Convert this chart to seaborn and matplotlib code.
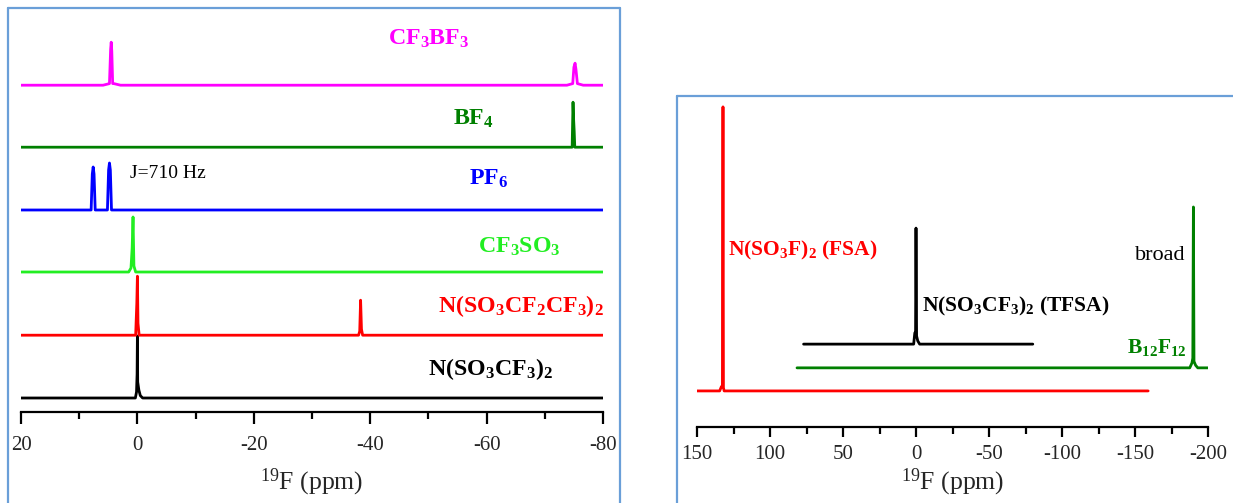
import matplotlib
matplotlib.use("Agg")
import matplotlib.pyplot as plt
from matplotlib.lines import Line2D
from matplotlib.ticker import MultipleLocator
import pandas as pd
import seaborn as sns

# ---------------- Left panel: 19F NMR of fluorinated anions ----------------
# chemical shift (ppm) and intensity above each trace's own baseline
tfsa_ppm = [20, 0.35, 0.15, 0.05, 0.0, -0.05, -0.25, -0.5, -0.9, -80]
tfsa_int = [0, 0, 1.5, 6.0, 15.5, 4.0, 2.0, 0.6, 0, 0]

beti_ppm = [20, 0.3, 0.1, 0.0, -0.1, -0.3, -38.0, -38.2, -38.35, -38.5, -38.7, -80]
beti_int = [0, 0, 8.0, 14.75, 3.0, 0, 0, 1.0, 8.75, 1.5, 0, 0]

otf_ppm = [20, 1.5, 1.1, 0.9, 0.75, 0.6, 0.3, -80]
otf_int = [0, 0, 1.0, 6.0, 13.75, 1.5, 0, 0]

pf6_ppm = [20, 7.95, 7.75, 7.6, 7.45, 7.25, 5.15, 4.95, 4.8, 4.65, 4.45, -80]
pf6_int = [0, 0, 9.0, 10.75, 9.0, 0, 0, 10.0, 11.75, 10.0, 0, 0]

bf4_ppm = [20, -74.7, -74.85, -74.95, -75.05, -75.15, -80]
bf4_int = [0, 0, 11.25, 7.0, 4.0, 0, 0]

cf3bf3_ppm = [20, 5.9, 4.8, 4.6, 4.5, 4.4, 4.25, 4.05, 2.9,
              -73.8, -74.8, -75.0, -75.2, -75.35, -75.6, -76.6, -80]
cf3bf3_int = [0, 0, 0.4, 9.0, 10.75, 8.5, 0.4, 0.4, 0,
              0, 0.4, 4.5, 5.5, 4.0, 0.4, 0, 0]

left_names = ["N(SO3CF3)2", "N(SO3CF2CF3)2", "CF3SO3", "PF6", "BF4", "CF3BF3"]
left_ppm = [tfsa_ppm, beti_ppm, otf_ppm, pf6_ppm, bf4_ppm, cf3bf3_ppm]
left_int = [tfsa_int, beti_int, otf_int, pf6_int, bf4_int, cf3bf3_int]
left_offsets = [3.5, 19.2, 35.0, 50.5, 66.2, 81.7]
left_colors = ["#000000", "#FF0000", "#22EE22", "#0000FF", "#008000", "#FF00FF"]
left_labels = [r"$\mathbf{N(SO_3CF_3)_2}$", r"$\mathbf{N(SO_3CF_2CF_3)_2}$",
               r"$\mathbf{CF_3SO_3}$", r"$\mathbf{PF_6}$", r"$\mathbf{BF_4}$",
               r"$\mathbf{CF_3BF_3}$"]
left_label_pos = [(-50.0, 9.25), (-51.7, 25.1), (-58.6, 39.7),
                  (-57.0, 56.75), (-54.2, 71.75), (-43.1, 91.75)]

# ---------------- Right panel: sulfonylamide and borane anions ----------------
fsa_ppm = [150, 134.5, 133.3, 132.6, 132.2, 131.9, 131.4, -159]
fsa_int = [0, 0, 1.3, 1.6, 87.4, 1.0, 0, 0]

tfsa2_ppm = [77, 1.6, 0.8, 0.3, 0.0, -0.4, -1.2, -2.5, -80]
tfsa2_int = [0, 0, 3.5, 3.5, 35.7, 2.5, 1.0, 0, 0]

b12_ppm = [81.5, -187.5, -189.0, -189.6, -190.0, -190.4, -191.5, -193, -200]
b12_int = [0, 0, 1.5, 3.0, 49.5, 2.0, 0.8, 0, 0]

right_names = ["FSA", "B12F12", "TFSA"]
right_ppm = [fsa_ppm, b12_ppm, tfsa2_ppm]
right_int = [fsa_int, b12_int, tfsa2_int]
right_offsets = [11.1, 18.2, 25.5]
right_colors = ["#FF0000", "#008000", "#000000"]


def long_form(names, ppms, ints, offsets):
    rows = []
    for name, pp, ii, off in zip(names, ppms, ints, offsets):
        for p, i in zip(pp, ii):
            rows.append({"anion": name, "ppm": p, "signal": i + off})
    return pd.DataFrame(rows)


df_left = long_form(left_names, left_ppm, left_int, left_offsets)
df_right = long_form(right_names, right_ppm, right_int, right_offsets)

sns.set_style("white")
plt.rcParams["font.family"] = ["Liberation Serif", "DejaVu Serif"]
plt.rcParams["mathtext.fontset"] = "custom"
plt.rcParams["mathtext.rm"] = "Liberation Serif"
plt.rcParams["mathtext.bf"] = "Liberation Serif:bold"
plt.rcParams["mathtext.it"] = "Liberation Serif:italic"
plt.rcParams["axes.unicode_minus"] = False

W, H = 1233, 503
fig = plt.figure(figsize=(W / 100, H / 100), dpi=100)
fig.patch.set_facecolor("white")


def px_axes(x0, x1, ytop, ybot):
    return fig.add_axes([x0 / W, 1 - ybot / H, (x1 - x0) / W, (ybot - ytop) / H])


axL = px_axes(21, 603, 12, 412)
axR = px_axes(697, 1208, 102, 427)

sns.lineplot(data=df_left, x="ppm", y="signal", hue="anion", units="anion",
             estimator=None, sort=False, legend=False, linewidth=2.0,
             palette=dict(zip(left_names, left_colors)), ax=axL)
sns.lineplot(data=df_right, x="ppm", y="signal", hue="anion", units="anion",
             estimator=None, sort=False, legend=False, linewidth=2.0,
             palette=dict(zip(right_names, right_colors)), ax=axR)

axis_style = [
    # axes, limits, major, minor, major length, pad, label pad
    (axL, (20, -80), 20, 10, 8.9, 8.3, 8.5),
    (axR, (150, -200), 50, 25, 7.2, 5.8, 2.0),
]
for ax, (lo, hi), major, minor, mlen, pad, lpad in axis_style:
    ax.set_xlim(lo, hi)
    ax.set_ylim(0, 100)
    ax.set_facecolor("none")
    for s in ["left", "right", "top"]:
        ax.spines[s].set_visible(False)
    ax.spines["bottom"].set_linewidth(1.6)
    ax.spines["bottom"].set_color("black")
    ax.set_yticks([])
    ax.set_ylabel("")
    ax.xaxis.set_major_locator(MultipleLocator(major))
    ax.xaxis.set_minor_locator(MultipleLocator(minor))
    ax.tick_params(axis="x", which="major", direction="out", length=mlen, width=1.6,
                   labelsize=15, pad=pad, bottom=True, color="black")
    ax.tick_params(axis="x", which="minor", direction="out", length=4.8, width=1.6,
                   bottom=True, color="black")
    ax.set_xlabel(r"$^{19}$F (ppm)", fontsize=18.5, labelpad=lpad)

# trace labels, left panel
for lab, (x, y), c in zip(left_labels, left_label_pos, left_colors):
    axL.text(x, y, lab, color=c, fontsize=17.2, ha="left", va="baseline")
axL.text(1.3, 58.5, "J=710 Hz", color="black", fontsize=14, ha="left", va="baseline")

# trace labels, right panel
axR.text(128.6, 52.9, r"$\mathbf{N(SO_3F)_2}$ (FSA)", color="#FF0000", fontsize=15.5,
         fontweight="bold", ha="left", va="baseline")
axR.text(-3.9, 35.5, r"$\mathbf{N(SO_3CF_3)_2}$ (TFSA)", color="black", fontsize=15.5,
         fontweight="bold", ha="left", va="baseline")
axR.text(-150.0, 51.4, "broad", color="black", fontsize=16, ha="left", va="baseline")
axR.text(-144.3, 22.7, r"$\mathbf{B_{12}F_{12}}$", color="#008000", fontsize=15.5,
         ha="left", va="baseline")

# light-blue panel frames
frame = "#6A9FD8"
def fline(x0, y0, x1, y1):
    fig.add_artist(Line2D([x0 / W, x1 / W], [1 - y0 / H, 1 - y1 / H],
                          transform=fig.transFigure, color=frame, linewidth=1.6))

fline(8, 8, 620, 8)
fline(8, 8, 8, H + 5)
fline(620, 8, 620, H + 5)
fline(677, 96, W + 5, 96)
fline(677, 96, 677, H + 5)

fig.savefig("out.png", dpi=100, facecolor="white")
